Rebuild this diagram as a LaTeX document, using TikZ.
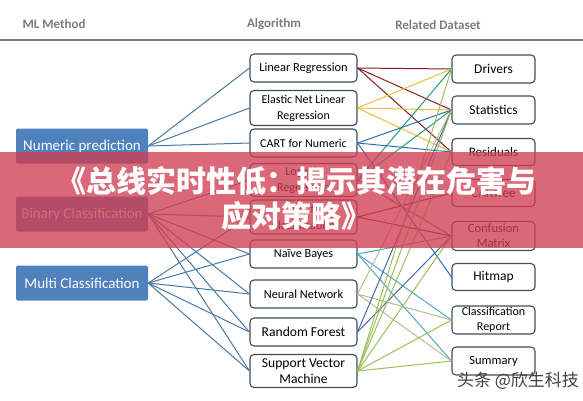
\documentclass[tikz,border=0pt]{standalone}
\usepackage{fontspec}
\setmainfont{Carlito}
\newfontfamily\cjk{Noto Sans CJK SC}
\definecolor{headgray}{RGB}{125,125,125}
\definecolor{boxedge}{RGB}{62,78,92}
\definecolor{methodblue}{RGB}{79,129,189}
\definecolor{linkblue}{RGB}{74,120,165}
\definecolor{lrred}{RGB}{140,26,32}
\definecolor{engold}{RGB}{232,192,58}
\definecolor{cnblue}{RGB}{46,112,175}
\definecolor{lggreen}{RGB}{44,158,108}
\definecolor{ccmaroon}{RGB}{128,30,52}
\definecolor{nbteal}{RGB}{75,170,198}
\definecolor{nntan}{RGB}{190,184,148}
\definecolor{rfblue}{RGB}{72,108,168}
\definecolor{svgreen}{RGB}{155,190,90}
\definecolor{bannerred}{RGB}{208,62,82}

\begin{document}
\begin{tikzpicture}[
  x=1pt,y=-1pt,
  head/.style={font=\fontsize{13}{15}\selectfont\bfseries,text=headgray},
  method/.style={fill=methodblue,rounded corners=2pt,text=white,
    minimum width=132pt,minimum height=35pt,inner sep=0pt},
  algo/.style={draw=boxedge,line width=1.1pt,fill=white,rounded corners=4pt,
    minimum width=107pt,align=center,inner sep=1pt},
  data/.style={algo,minimum width=83pt},
  link/.style={line width=1pt}]
  \useasboundingbox (0,0) rectangle (583,400);

  \node[head,anchor=west] (mlhead) at (19,24) {ML Method};
  \node[head] (algohead) at (274,24) {Algorithm};
  \node[head] (datahead) at (438,25) {Related Dataset};
  \draw[headgray,line width=1.2pt] (0,40) -- (583,40);

  \foreach \name/\y/\size/\txt in {
    num/146/15/Numeric prediction,
    bin/214/15/Binary Classification,
    multi/283/15/Multi Classification}
  {
    \node[method,font=\fontsize{\size}{17}\selectfont] (\name) at (82,\y) {\txt};
  }

  \foreach \name/\y/\h/\size/\txt in {
    lr/68/28/12.4/Linear Regression,
    en/108/35/12/{Elastic Net Linear\\Regression},
    cartn/143/28/12/CART for Numeric,
    logr/180/33/12/{Logistic\\Regression},
    cartc/217/34/12/{CART for\\Classification},
    nb/254/28/12.2/Na\"ive Bayes,
    nn/294/28/12.3/Neural Network,
    rf/332/28/13.6/Random Forest,
    svm/371/33/13.6/{Support Vector\\Machine}}
  {
    \node[algo,minimum height=\h pt,font=\fontsize{\size}{16}\selectfont]
      (\name) at (303.5,\y) {\txt};
  }

  \foreach \name/\y/\h/\size/\txt in {
    drivers/69/28/13.5/Drivers,
    stats/110/28/13.5/Statistics,
    resid/152/27/13/Residuals,
    cartree/193/27/13/CARTree,
    confm/236/29/12.5/{Confusion\\Matrix},
    hitmap/277/27/13.5/Hitmap,
    classrep/320/28/12/{Classification\\Report},
    summary/361/28/12.5/Summary}
  {
    \node[data,minimum height=\h pt,font=\fontsize{\size}{15}\selectfont]
      (\name) at (493.5,\y) {\txt};
  }

  % method -> algorithm
  \foreach \from/\to in {num/lr,num/en,num/cartn,
    bin/logr,bin/cartc,bin/nb,bin/nn,bin/rf,bin/svm,
    multi/cartc,multi/nb,multi/nn,multi/rf,multi/svm}
    \draw[link,linkblue] (\from.east) -- (\to.west);

  % algorithm -> dataset
  \foreach \from/\to/\col in {
    lr/drivers/lrred,lr/stats/lrred,lr/resid/lrred,
    en/drivers/engold,en/stats/engold,en/resid/engold,
    cartn/stats/cnblue,cartn/resid/cnblue,cartn/hitmap/cnblue,
    logr/drivers/lggreen,logr/stats/lggreen,logr/confm/lggreen,
    cartc/cartree/ccmaroon,cartc/confm/ccmaroon,
    nb/confm/nbteal,nb/classrep/nbteal,nb/summary/nbteal,
    nn/stats/nntan,nn/classrep/nntan,nn/summary/nntan,
    rf/stats/rfblue,rf/confm/rfblue,
    svm/drivers/svgreen,svm/stats/svgreen,svm/resid/svgreen,
    svm/confm/svgreen,svm/classrep/svgreen,svm/summary/svgreen}
    \draw[link,draw=\col] (\from.east) -- (\to.west);

  \fill[bannerred,opacity=0.78] (0,152) rectangle (583,248);
  \node[text=white,align=center,font=\cjk\bfseries\fontsize{30}{35}\selectfont]
    (banner) at (296,199) {《总线实时性低：揭示其潜在危害与\\应对策略》};

  \node[text=black!75,font=\cjk\fontsize{17}{19}\selectfont]
    (mark) at (518,381) {头条 @欣生科技};
\end{tikzpicture}
\end{document}
